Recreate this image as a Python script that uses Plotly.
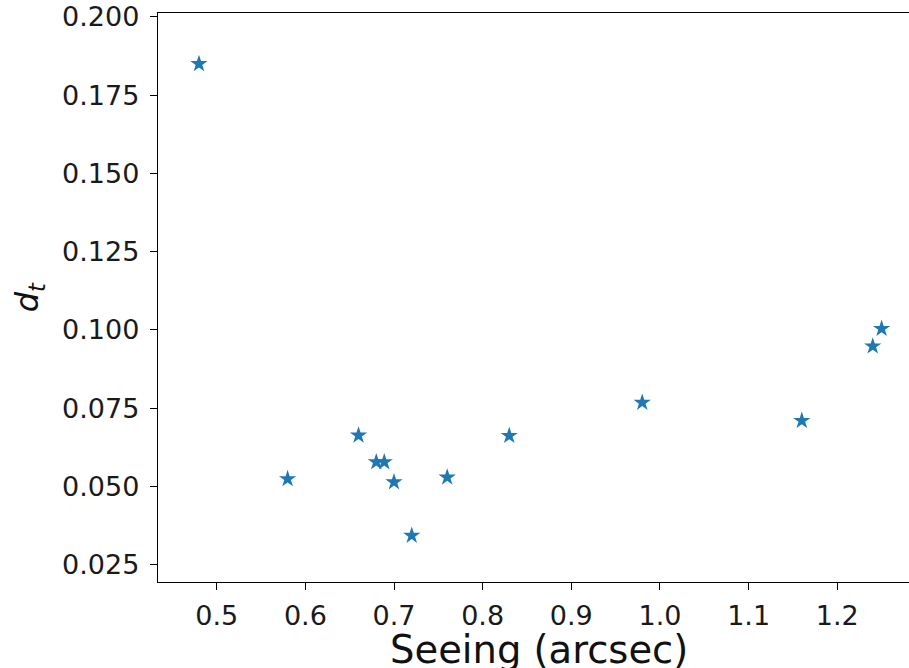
import plotly.graph_objects as go

# Seeing (arcsec) vs d_t measurements
seeing = [0.48, 0.58, 0.66, 0.68, 0.689, 0.70, 0.72, 0.76, 0.83, 0.98, 1.16, 1.24, 1.25]
d_t = [0.185, 0.0524, 0.0663, 0.0578, 0.0578, 0.0514, 0.0343, 0.0529, 0.0662, 0.0768, 0.0710, 0.0948, 0.1004]

x_ticks = [0.5, 0.6, 0.7, 0.8, 0.9, 1.0, 1.1, 1.2]
y_ticks = [0.025, 0.050, 0.075, 0.100, 0.125, 0.150, 0.175, 0.200]

FONT = "DejaVu Sans"
BLUE = "#1f77b4"

fig = go.Figure()
fig.add_trace(go.Scatter(
    x=seeing, y=d_t, mode="markers",
    marker=dict(symbol="star", size=13, color=BLUE, line=dict(width=0)),
    showlegend=False,
))

axis_common = dict(
    showgrid=False, zeroline=False, showline=True, linecolor="black", linewidth=1.4,
    ticks="outside", ticklen=7, tickwidth=1.4, tickcolor="black",
    tickfont=dict(family=FONT, size=27, color="#1a1a1a"),
)

fig.update_xaxes(range=[0.4338, 1.2809], tickvals=x_ticks, tickformat=".1f",
                 mirror=True, ticklabelstandoff=2, **axis_common)
fig.update_yaxes(range=[0.01947, 0.20127], tickvals=y_ticks, tickformat=".3f",
                 mirror=False, ticklabelstandoff=5, **axis_common)

fig.add_annotation(
    text="Seeing (arcsec)", xref="paper", yref="paper", x=0.5073, y=0,
    xanchor="center", yanchor="top", yshift=-43, showarrow=False,
    font=dict(family=FONT, size=38.5, color="#111111"),
)
fig.add_annotation(
    text="<i>d</i><sub><i>t</i></sub>", xref="paper", yref="paper", x=-0.172, y=0.5,
    xanchor="center", yanchor="middle", textangle=-90, showarrow=False,
    font=dict(family=FONT, size=32, color="#111111"),
)

fig.update_layout(
    width=909, height=668,
    margin=dict(l=158, r=0, t=13, b=86, pad=0),
    paper_bgcolor="white", plot_bgcolor="white",
)

fig.write_html("out.html")
